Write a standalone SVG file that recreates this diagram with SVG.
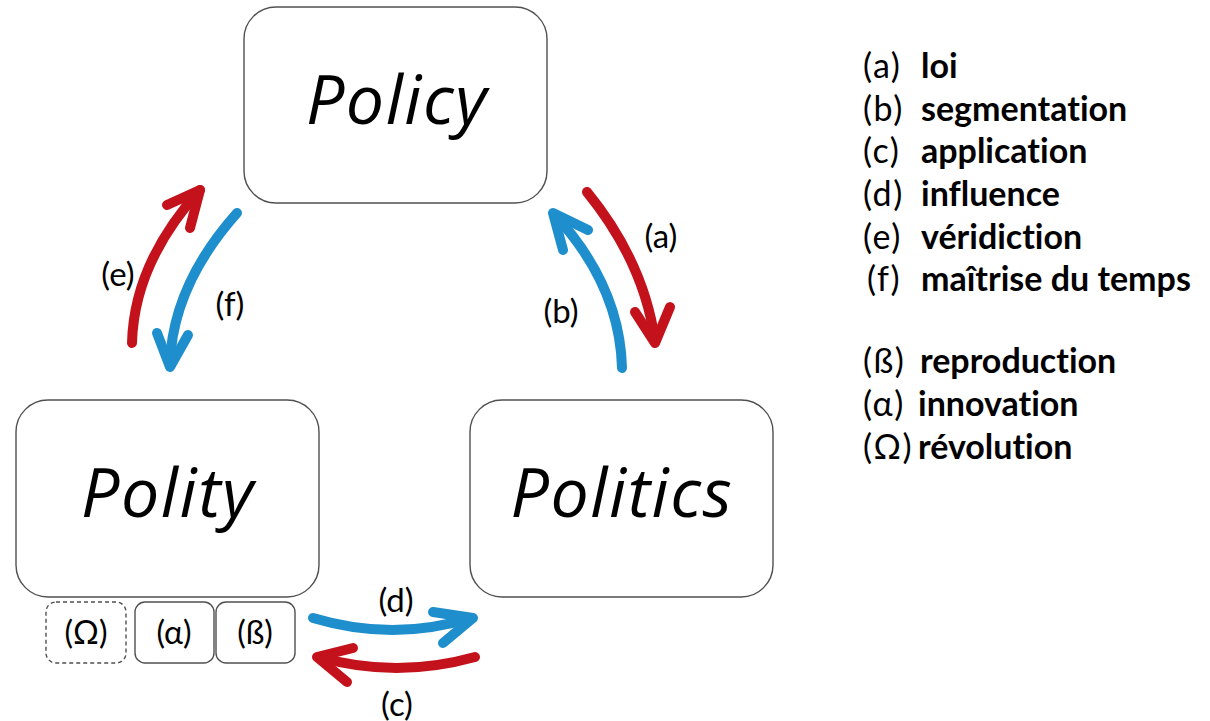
<svg xmlns="http://www.w3.org/2000/svg" width="1210" height="721" viewBox="0 0 1210 721">
<style>
text{font-variant-ligatures:none}
.box{fill:#fff;stroke:#505050;stroke-width:1.4}
.big{font-family:"Open Sans",Lato,sans-serif;font-style:italic;font-size:68px;letter-spacing:1.5px;fill:#000;text-anchor:middle}
.lbl{font-family:Lato,"Open Sans",sans-serif;font-size:33px;fill:#000;text-anchor:middle}
.sm{font-family:Lato,"Open Sans",sans-serif;font-size:32px;fill:#000;text-anchor:middle}
.lk{font-family:Lato,"Open Sans",sans-serif;font-size:34px;letter-spacing:1.5px;fill:#000}
.lw{font-family:Lato,"Open Sans",sans-serif;font-size:34px;font-weight:bold;fill:#000}
.red{fill:none;stroke:#c4121c;stroke-width:10;stroke-linecap:round;stroke-linejoin:round}
.blue{fill:none;stroke:#1e8fcc;stroke-width:10;stroke-linecap:round;stroke-linejoin:round}
</style>
<rect width="1210" height="721" fill="#fff"/>
<g id="policy"><rect class="box" x="244" y="7" width="303" height="196" rx="32"/><text class="big" x="397" y="124">Policy</text></g>
<g id="polity"><rect class="box" x="16" y="400" width="303" height="197" rx="32"/><text class="big" x="168" y="517">Polity</text></g>
<g id="politics"><rect class="box" x="470" y="400" width="303" height="197" rx="32"/><text class="big" x="622" y="517">Politics</text></g>
<g id="omega"><rect class="box" x="46" y="602" width="80" height="61" rx="10" style="stroke-dasharray:4 3"/><text class="sm" x="86" y="644">(Ω)</text></g>
<g id="alpha"><rect class="box" x="135" y="602" width="79" height="61" rx="10"/><text class="sm" x="174" y="644">(α)</text></g>
<g id="beta"><rect class="box" x="216" y="602" width="79" height="61" rx="10"/><text class="sm" x="255" y="644">(ß)</text></g>
<g id="connectors">
<path class="red" d="M132,343 Q134,263 200,190"/><polyline class="red" points="167,205 200,190 190,228"/>
<path class="blue" d="M237,213 Q172,286 170,365"/><polyline class="blue" points="157,333 170,367 188,335"/>
<path class="red" d="M587,192 Q644,262 655,341"/><polyline class="red" points="635,312 655,343 670,307"/>
<path class="blue" d="M622,368 Q620,286 555,215"/><polyline class="blue" points="563,250 553,213 588,230"/>
<path class="blue" d="M313,618 Q393,642 471,618"/><polyline class="blue" points="433,612 473,618 443,643"/>
<path class="red" d="M475,657 Q396,679 319,657"/><polyline class="red" points="353,648 317,657 347,682"/>
</g>
<g id="labels">
<text class="lbl" x="661" y="248">(a)</text>
<text class="lbl" x="561" y="323">(b)</text>
<text class="lbl" x="118" y="286">(e)</text>
<text class="lbl" x="230" y="316">(f)</text>
<text class="lbl" x="396" y="612">(d)</text>
<text class="lbl" x="397" y="716">(c)</text>
</g>
<g id="legend">
<text class="lk" x="863" y="78">(a)</text><text class="lw" x="921" y="78">loi</text>
<text class="lk" x="863" y="121">(b)</text><text class="lw" x="921" y="121">segmentation</text>
<text class="lk" x="863" y="163">(c)</text><text class="lw" x="921" y="163">application</text>
<text class="lk" x="863" y="206">(d)</text><text class="lw" x="921" y="206">influence</text>
<text class="lk" x="863" y="249">(e)</text><text class="lw" x="921" y="249">véridiction</text>
<text class="lk" x="867" y="291">(f)</text><text class="lw" x="921" y="291">maîtrise du temps</text>
<text class="lk" x="863" y="373">(ß)</text><text class="lw" x="920" y="373">reproduction</text>
<text class="lk" x="863" y="416">(α)</text><text class="lw" x="918" y="416">innovation</text>
<text class="lk" x="863" y="459">(Ω)</text><text class="lw" x="918" y="459">révolution</text>
</g>
</svg>
